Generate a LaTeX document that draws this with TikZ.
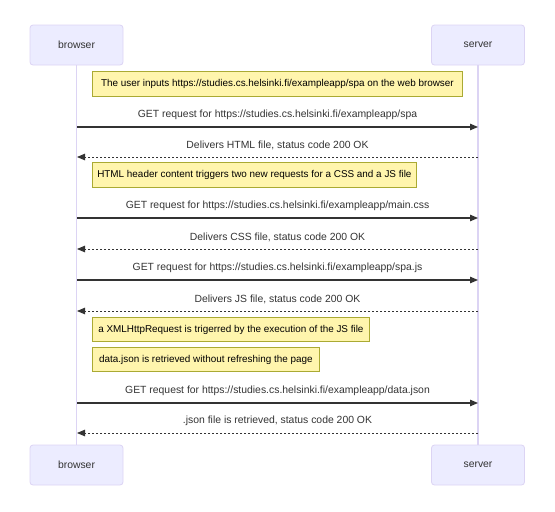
\documentclass[tikz,border=0pt]{standalone}
\usepackage{fontspec}
\setmainfont{Liberation Sans}
\usetikzlibrary{arrows.meta}
\definecolor{actorfill}{HTML}{ECECFF}
\definecolor{actorline}{HTML}{DCD4F4}
\definecolor{notefill}{HTML}{FFF5AD}
\definecolor{noteline}{HTML}{AAAA33}
\definecolor{msgcol}{HTML}{333333}
\begin{document}
\begin{tikzpicture}[x=1pt,y=-1pt,
  every node/.style={font=\fontsize{10.4}{12}\selectfont, text=msgcol},
  actor/.style={draw=actorline, fill=actorfill, rounded corners=3pt,
    minimum width=93pt, minimum height=40pt, inner sep=0pt, line width=0.8pt},
  lifeline/.style={draw=actorline, line width=1.5pt},
  note/.style={draw=noteline, fill=notefill, anchor=west,
    minimum height=24.5pt, inner sep=0pt, line width=0.8pt, text=black,
    font=\fontsize{9.9}{12}\selectfont},
  msglabel/.style={inner sep=0pt},
  call/.style={draw=msgcol, line width=1.2pt, -{Triangle[length=8pt,width=6.5pt]}},
  reply/.style={call, line width=0.9pt, dash pattern=on 2pt off 2pt},
]
\useasboundingbox (0,0) rectangle (555,512);

% participants
\node[actor] (bt) at (76.5,45) {browser};
\node[actor] (st) at (478,45) {server};
\node[actor] (bb) at (76.5,465) {browser};
\node[actor] (sb) at (478,465) {server};

% lifelines
\draw[lifeline] (bt.south) -- (bb.north);
\draw[lifeline] (st.south) -- (sb.north);

% message end points on the lifelines
\foreach \i/\y in {1/127,2/157,3/218,4/249,5/280,6/311,7/403,8/433}{
  \coordinate (b\i) at (77,\y);
  \coordinate (s\i) at (478,\y);
}

% notes
\node[note, minimum width=370pt] (n1) at (92,84) {The user inputs https://studies.cs.helsinki.fi/exampleapp/spa on the web browser};
\node[note, minimum width=324pt] (n2) at (92,175) {HTML header content triggers two new requests for a CSS and a JS file};
\node[note, minimum width=277pt] (n3) at (92,329.5) {a XMLHttpRequest is trigerred by the execution of the JS file};
\node[note, minimum width=227pt] (n4) at (92,359.5) {data.json is retrieved without refreshing the page};

% messages
\draw[call] (b1) -- node[msglabel, above=7pt] (m1) {GET request for https://studies.cs.helsinki.fi/exampleapp/spa} (s1);
\draw[reply] (s2) -- node[msglabel, above=7pt] (m2) {Delivers HTML file, status code 200 OK} (b2);
\draw[call] (b3) -- node[msglabel, above=7pt] (m3) {GET request for https://studies.cs.helsinki.fi/exampleapp/main.css} (s3);
\draw[reply] (s4) -- node[msglabel, above=7pt] (m4) {Delivers CSS file, status code 200 OK} (b4);
\draw[call] (b5) -- node[msglabel, above=7pt] (m5) {GET request for https://studies.cs.helsinki.fi/exampleapp/spa.js} (s5);
\draw[reply] (s6) -- node[msglabel, above=7pt] (m6) {Delivers JS file, status code 200 OK} (b6);
\draw[call] (b7) -- node[msglabel, above=7pt] (m7) {GET request for https://studies.cs.helsinki.fi/exampleapp/data.json} (s7);
\draw[reply] (s8) -- node[msglabel, above=7pt] (m8) {.json file is retrieved, status code 200 OK} (b8);
\end{tikzpicture}
\end{document}
